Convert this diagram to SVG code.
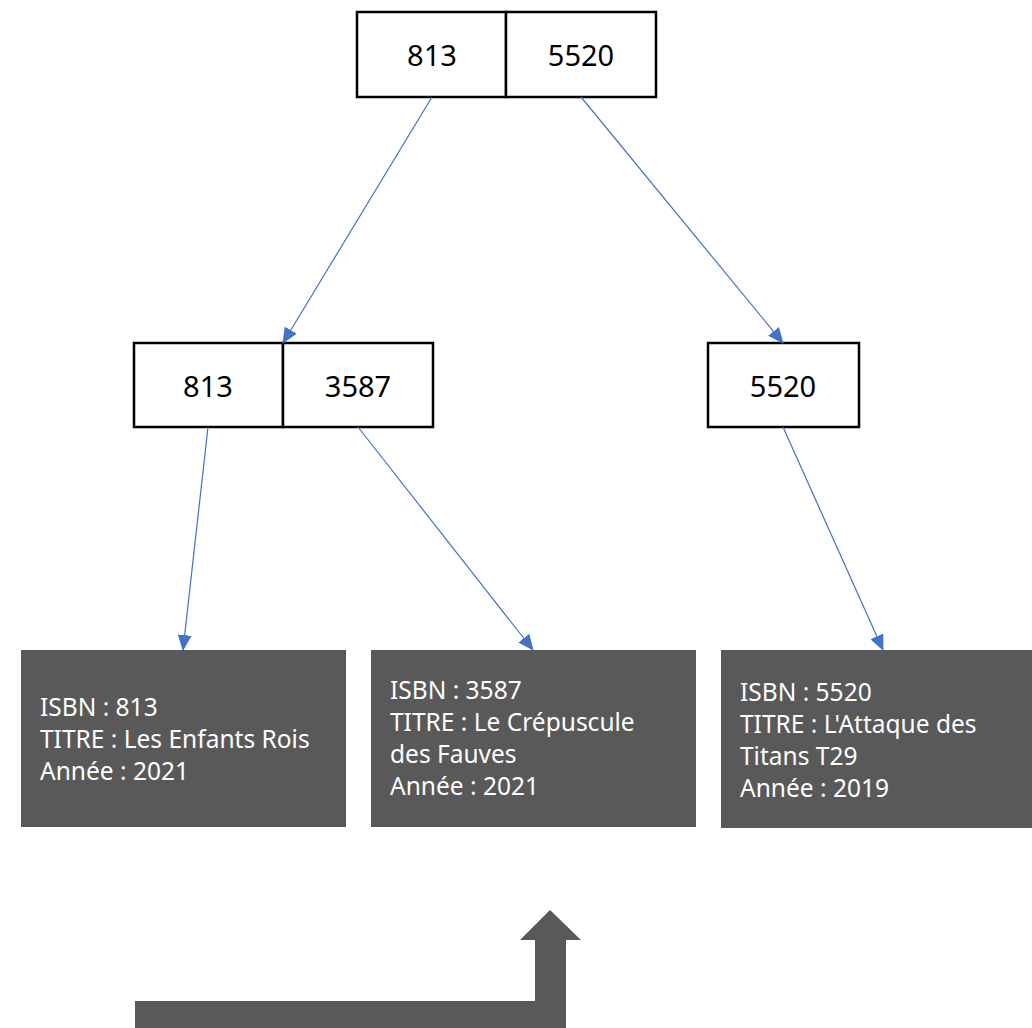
<svg xmlns="http://www.w3.org/2000/svg" width="1032" height="1028" viewBox="0 0 1032 1028">
<style>
.cell{fill:#fff;stroke:#000;stroke-width:2.5}
.key{font-family:"Noto Sans","Open Sans",sans-serif;font-size:29px;fill:#000;text-anchor:middle;dominant-baseline:central}
.leaf{fill:#595959}
.lt{font-family:"Noto Sans","Open Sans",sans-serif;font-size:24.5px;fill:#fff}
.conn{stroke:#4472C4;stroke-width:1.2;fill:none;marker-end:url(#ah)}
</style>
<defs>
<marker id="ah" markerWidth="16" markerHeight="14" refX="15" refY="7" orient="auto" markerUnits="userSpaceOnUse">
<path d="M0,0 L16,7 L0,14 Z" fill="#4472C4"/>
</marker>
</defs>
<rect width="1032" height="1028" fill="#fff"/>
<g id="root">
<rect class="cell" x="357" y="12" width="149" height="85"/>
<rect class="cell" x="506" y="12" width="150" height="85"/>
<text class="key" x="432" y="54">813</text>
<text class="key" x="581" y="54">5520</text>
</g>
<g id="inner-left">
<rect class="cell" x="134" y="343" width="149" height="84"/>
<rect class="cell" x="283" y="343" width="150" height="84"/>
<text class="key" x="208" y="385">813</text>
<text class="key" x="358" y="385">3587</text>
</g>
<g id="inner-right">
<rect class="cell" x="708" y="343" width="151" height="84"/>
<text class="key" x="783" y="385">5520</text>
</g>
<g id="leaf-813">
<rect class="leaf" x="21" y="650" width="325" height="177"/>
<text class="lt" x="40" y="716">ISBN : 813</text>
<text class="lt" x="40" y="748">TITRE : Les Enfants Rois</text>
<text class="lt" x="40" y="780">Année : 2021</text>
</g>
<g id="leaf-3587">
<rect class="leaf" x="371" y="650" width="325" height="177"/>
<text class="lt" x="390" y="699">ISBN : 3587</text>
<text class="lt" x="390" y="731">TITRE : Le Crépuscule</text>
<text class="lt" x="390" y="763">des Fauves</text>
<text class="lt" x="390" y="795">Année : 2021</text>
</g>
<g id="leaf-5520">
<rect class="leaf" x="721" y="650" width="325" height="178"/>
<text class="lt" x="740" y="701">ISBN : 5520</text>
<text class="lt" x="740" y="733">TITRE : L'Attaque des</text>
<text class="lt" x="740" y="765">Titans T29</text>
<text class="lt" x="740" y="797">Année : 2019</text>
</g>
<g id="connectors">
<line class="conn" x1="432" y1="97" x2="283" y2="343"/>
<line class="conn" x1="581" y1="97" x2="783" y2="343"/>
<line class="conn" x1="208" y1="427" x2="183" y2="650"/>
<line class="conn" x1="358" y1="427" x2="533" y2="650"/>
<line class="conn" x1="783" y1="427" x2="883" y2="650"/>
</g>
<g id="bent-arrow">
<path d="M135,1028 L135,1001 L535,1001 L535,940 L520,940 L550,910 L581,940 L566,940 L566,1028 Z" fill="#595959"/>
</g>
</svg>
